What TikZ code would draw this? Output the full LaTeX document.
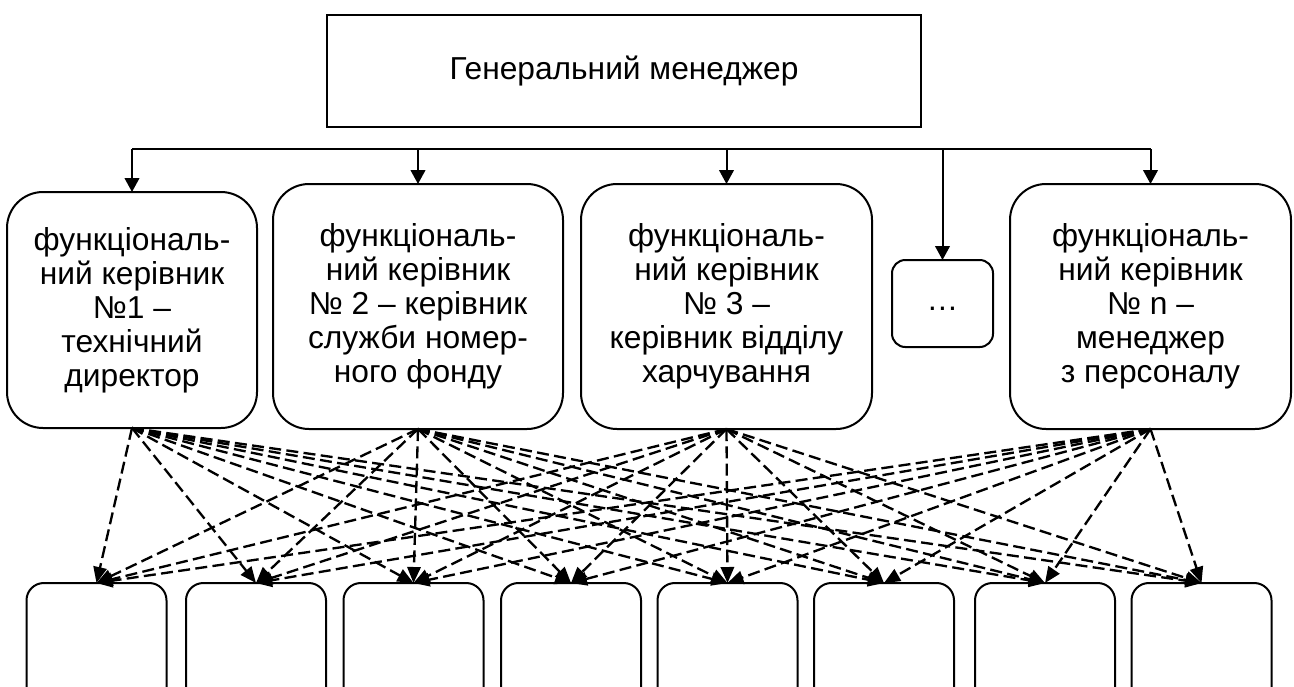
\documentclass[tikz,border=0pt]{standalone}
\usepackage{fontspec}
\setmainfont{Liberation Sans}
\usetikzlibrary{arrows.meta}
\begin{document}
\begin{tikzpicture}[x=0.75pt,y=-0.75pt,
  font=\fontsize{23.8pt}{25.5pt}\selectfont,
  box/.style={draw, line width=1.5pt, inner sep=0pt, outer sep=0pt, align=center},
  topbox/.style={box, minimum width=445.5pt, minimum height=84pt},
  mgr/.style={box, rounded corners=27pt, minimum height=183.75pt},
  dotbox/.style={box, rounded corners=10pt, minimum width=75.75pt, minimum height=65.25pt},
  unit/.style={box, rounded corners=13pt, minimum width=105pt, minimum height=105pt},
  busline/.style={line width=1.5pt},
  solidarrow/.style={line width=1.5pt, -{Triangle[length=10.5pt,width=11pt]}},
  dasharrow/.style={line width=1.75pt, dash pattern=on 9pt off 4pt, -{Triangle[length=12pt,width=10pt]}}
]
\useasboundingbox (0,0) rectangle (1294,686);

\node[topbox] (gm) at (624,71) {Генеральний менеджер};

\node[mgr, minimum width=187.5pt, minimum height=177pt] (m1) at (132,310)
  {функціональ-\\ний керівник\\№1 –\\технічний\\директор};
\node[mgr, minimum width=217.5pt] (m2) at (418,306.5)
  {функціональ-\\ний керівник\\№ 2 – керівник\\служби номер-\\ного фонду};
\node[mgr, minimum width=218.25pt] (m3) at (726.5,306.5)
  {функціональ-\\ний керівник\\№ 3 –\\керівник відділу\\харчування};
\node[dotbox] (m4) at (942.5,303.5) {\strut …};
\node[mgr, minimum width=210.75pt] (m5) at (1150.5,306.5)
  {функціональ-\\ний керівник\\№ n –\\менеджер\\з персоналу};

\foreach \i/\x in {1/96.5,2/256,3/413.5,4/571,5/727.5,6/884,7/1045,8/1201.5}
  \node[unit] (b\i) at (\x,653) {};

\coordinate (busL) at (132,149);
\coordinate (busR) at (1150.5,149);
\draw[busline] (busL) -- (busR);
\draw[solidarrow] (busL) -- (m1.north);
\draw[solidarrow] (m2.north |- busL) -- (m2.north);
\draw[solidarrow] (m3.north |- busL) -- (m3.north);
\draw[solidarrow] (m4.north |- busL) -- (m4.north);
\draw[solidarrow] (busR) -- (m5.north);

\foreach \s in {m1,m2,m3,m5}
  \foreach \t in {1,...,8}
    \draw[dasharrow] (\s.south) -- (b\t.north);
\end{tikzpicture}
\end{document}
